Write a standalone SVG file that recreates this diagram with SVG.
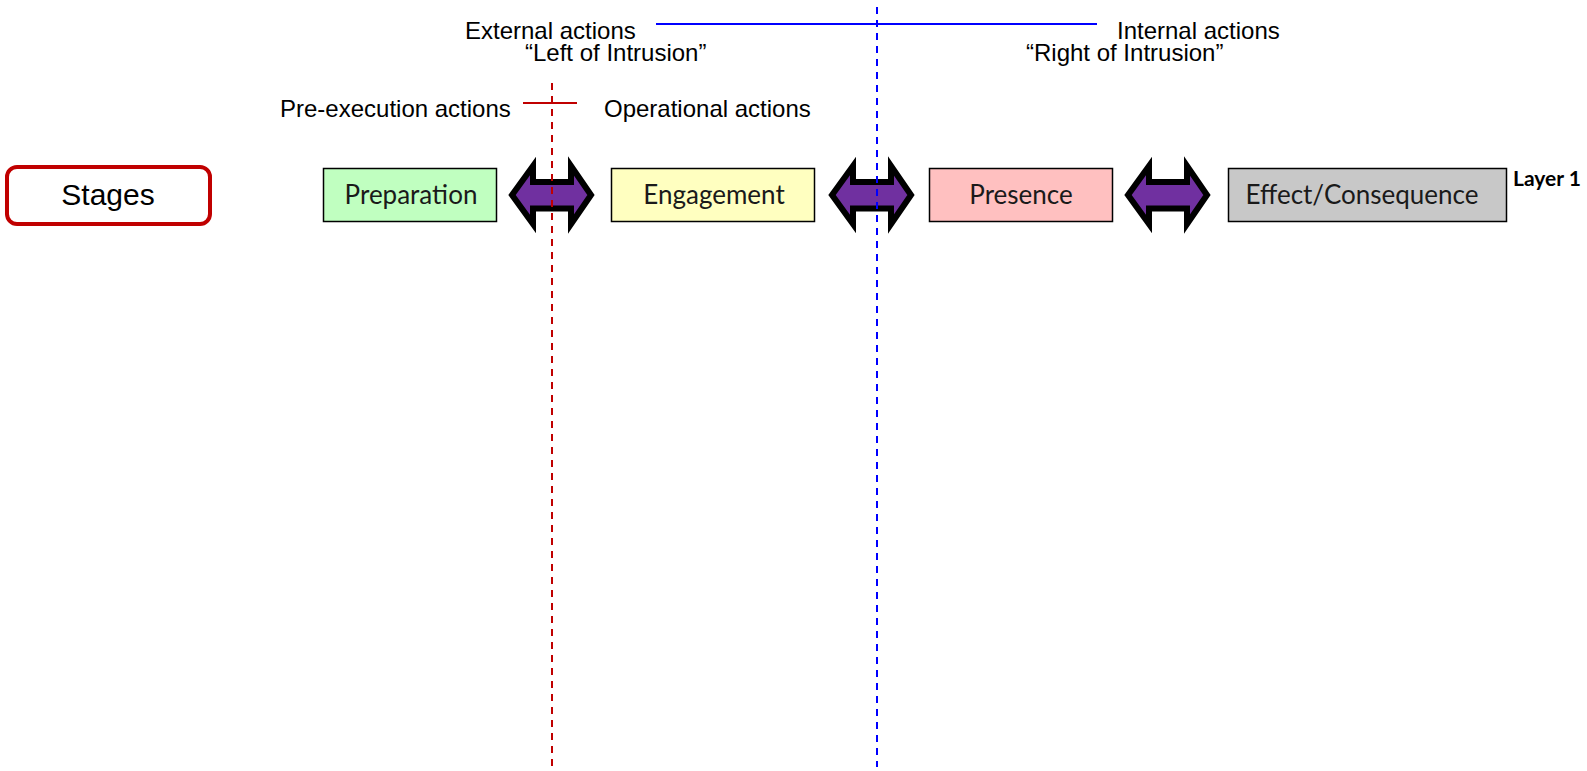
<svg xmlns="http://www.w3.org/2000/svg" width="1587" height="771" viewBox="0 0 1587 771">
  <style>
    .lbl { font-family: "Liberation Sans", Arial, sans-serif; font-size: 24px; fill: #000; }
    .stage { stroke: #000; stroke-width: 1.5; }
    .stxt { font-family: Lato, "Open Sans", sans-serif; font-size: 26px; fill: #1a1a1a; text-anchor: middle; }
    .arrow { fill: #7030a0; stroke: #000; stroke-width: 6; stroke-linejoin: miter; }
  </style>
  <defs>
    <path id="dbl" d="M512,195 L533,166 L533,182 L571,182 L571,166 L591,195 L571,224 L571,208.5 L533,208.5 L533,224 Z"/>
  </defs>
  <rect width="1587" height="771" fill="#fff"/>

  <g id="stages-label">
    <rect x="7" y="167" width="203" height="57" rx="10" ry="10" fill="#fff" stroke="#c00000" stroke-width="4"/>
    <text x="108" y="205" font-family="Liberation Sans, Arial, sans-serif" font-size="30" text-anchor="middle">Stages</text>
  </g>

  <g id="preparation">
    <rect class="stage" x="323.5" y="168.5" width="173" height="53" fill="#c0ffc0"/>
    <text class="stxt" x="411" y="204">Preparation</text>
  </g>
  <g id="engagement">
    <rect class="stage" x="611.5" y="168.5" width="203" height="53" fill="#ffffc0"/>
    <text class="stxt" x="714" y="204">Engagement</text>
  </g>
  <g id="presence">
    <rect class="stage" x="929.5" y="168.5" width="183" height="53" fill="#ffc0c0"/>
    <text class="stxt" x="1021" y="204">Presence</text>
  </g>
  <g id="effect">
    <rect class="stage" x="1228.5" y="168.5" width="278" height="53" fill="#c8c8c8"/>
    <text class="stxt" x="1362" y="204">Effect/Consequence</text>
  </g>
  <g id="layer-label">
    <text x="1513" y="186" font-family="Lato, sans-serif" font-weight="bold" font-size="21">Layer 1</text>
  </g>

  <g id="connectors">
    <use href="#dbl" class="arrow"/>
    <use href="#dbl" class="arrow" transform="translate(320,0)"/>
    <use href="#dbl" class="arrow" transform="translate(616,0)"/>
  </g>

  <g id="boundaries">
    <line x1="656" y1="24" x2="1097" y2="24" stroke="#0000ff" stroke-width="2"/>
    <line x1="877" y1="7" x2="877" y2="767" stroke="#0000ff" stroke-width="2" stroke-dasharray="7 6"/>
    <line x1="523" y1="103" x2="577" y2="103" stroke="#c00000" stroke-width="2"/>
    <line x1="552" y1="83" x2="552" y2="771" stroke="#c00000" stroke-width="2" stroke-dasharray="7 6"/>
  </g>

  <g id="annotations">
    <text class="lbl" x="465" y="39">External actions</text>
    <text class="lbl" x="525" y="61">“Left of Intrusion”</text>
    <text class="lbl" x="1117" y="39">Internal actions</text>
    <text class="lbl" x="1026" y="61">“Right of Intrusion”</text>
    <text class="lbl" x="280" y="117">Pre-execution actions</text>
    <text class="lbl" x="604" y="117">Operational actions</text>
  </g>
</svg>
